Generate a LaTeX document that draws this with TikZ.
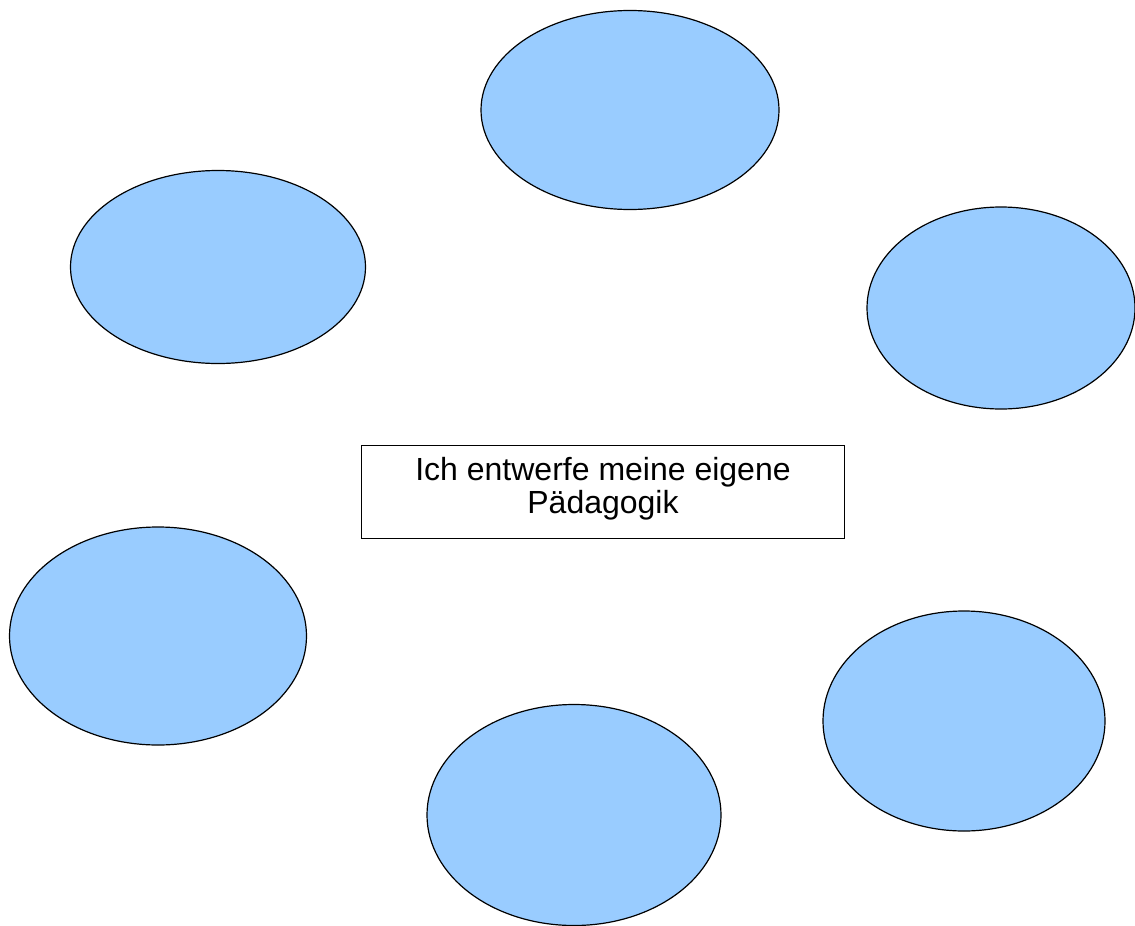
\documentclass[tikz,border=0pt]{standalone}
\usepackage{fontspec}
\setmainfont{Liberation Sans}
\usetikzlibrary{shapes.geometric}
\begin{document}
\begin{tikzpicture}[x=1pt,y=-1pt,
  blob/.style={ellipse, draw=black, line width=1.2pt, fill={rgb,255:red,153;green,204;blue,255}, inner sep=0pt},
  titlebox/.style={draw=black, line width=0.8pt, fill=white, minimum width=483pt, minimum height=93pt, inner sep=0pt},
  titletext/.style={align=center, font=\fontsize{32}{33}\selectfont, inner sep=0pt}]
\useasboundingbox (0,0) rectangle (1135,926);
\node[blob, minimum width=298pt, minimum height=199pt] (top) at (630,110) {};
\node[blob, minimum width=295pt, minimum height=193pt] (ul) at (218,267) {};
\node[blob, minimum width=268pt, minimum height=202pt] (r) at (1001,308) {};
\node[blob, minimum width=297pt, minimum height=218pt] (l) at (158,636) {};
\node[blob, minimum width=294pt, minimum height=221pt] (b) at (574,815) {};
\node[blob, minimum width=282pt, minimum height=220pt] (lr) at (964,721) {};
\node[titlebox] (center) at (603,491.5) {};
\node[titletext] (label) at (603,488.5) {Ich entwerfe meine eigene\\Pädagogik};
\end{tikzpicture}
\end{document}
